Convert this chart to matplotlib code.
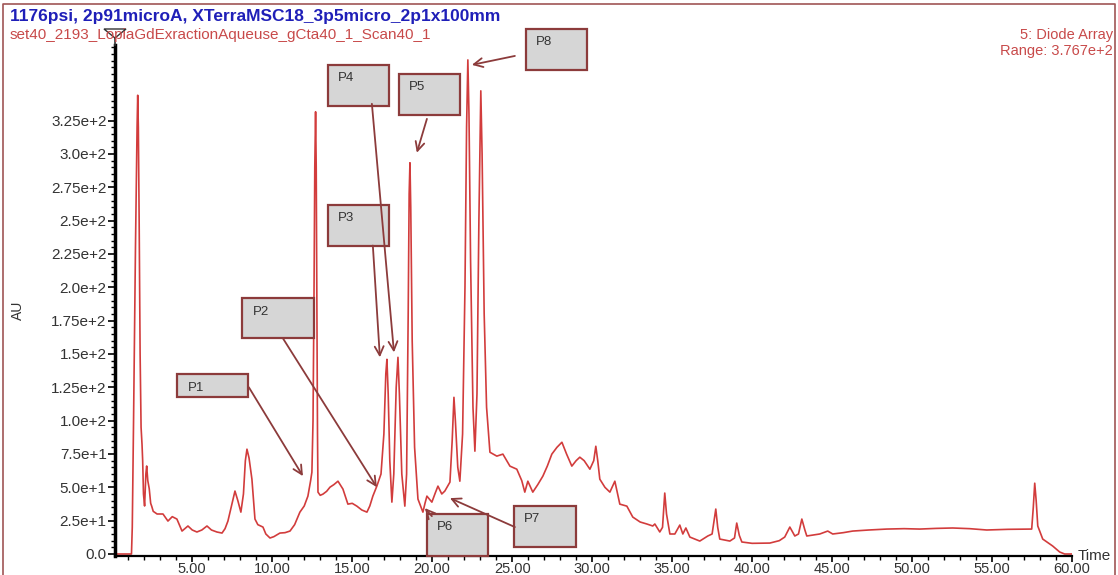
import matplotlib
matplotlib.use("Agg")
import matplotlib.pyplot as plt
from matplotlib.patches import Rectangle, Polygon
from matplotlib.lines import Line2D
from matplotlib.ticker import MultipleLocator

plt.rcParams['font.family'] = ['Liberation Sans', 'DejaVu Sans']

# chromatogram trace (time in min, AU)
time = [0.17, 1.20, 1.25, 1.33, 1.45, 1.55, 1.59, 1.63, 1.68, 1.74, 1.80, 1.86, 1.90, 1.95,
        2.02, 2.10, 2.15, 2.22, 2.31, 2.40, 2.46, 2.56, 2.80, 3.17, 3.48, 3.75, 4.04, 4.36,
        4.73, 5.00, 5.29, 5.60, 5.92, 6.20, 6.54, 6.86, 7.05, 7.23, 7.45, 7.67, 7.85, 8.04,
        8.20, 8.32, 8.42, 8.55, 8.73, 8.92, 9.10, 9.42, 9.60, 9.86, 10.10, 10.48, 10.80, 11.11,
        11.40, 11.73, 12.00, 12.23, 12.40, 12.48, 12.55, 12.61, 12.66, 12.71, 12.75, 12.79,
        12.83, 12.86, 13.00, 13.17, 13.40, 13.61, 13.85, 14.11, 14.25, 14.42, 14.73, 15.00,
        15.29, 15.60, 15.92, 16.10, 16.29, 16.54, 16.80, 16.98, 17.10, 17.17, 17.25, 17.35,
        17.48, 17.60, 17.75, 17.86, 17.95, 18.10, 18.29, 18.40, 18.50, 18.56, 18.61, 18.66,
        18.75, 18.90, 19.11, 19.42, 19.55, 19.67, 19.98, 20.20, 20.36, 20.60, 20.79, 21.11,
        21.25, 21.36, 21.45, 21.60, 21.73, 21.90, 22.05, 22.15, 22.23, 22.30, 22.40, 22.55,
        22.67, 22.80, 22.92, 23.04, 23.12, 23.25, 23.40, 23.61, 24.04, 24.42, 24.86, 25.29,
        25.60, 25.79, 25.98, 26.29, 26.60, 26.92, 27.20, 27.48, 27.80, 28.11, 28.40, 28.73,
        29.00, 29.23, 29.50, 29.86, 30.10, 30.23, 30.35, 30.48, 30.80, 31.11, 31.42, 31.73,
        32.17, 32.54, 33.00, 33.42, 33.79, 33.92, 34.23, 34.40, 34.54, 34.65, 34.86, 35.17,
        35.48, 35.67, 35.86, 36.11, 36.73, 37.23, 37.50, 37.73, 37.85, 37.98, 38.61, 38.90,
        39.04, 39.20, 39.36, 40.00, 41.11, 41.70, 42.04, 42.36, 42.67, 42.90, 43.11, 43.30,
        43.42, 44.23, 44.73, 45.04, 45.70, 46.29, 47.30, 48.42, 49.50, 50.48, 51.50, 52.54,
        53.60, 54.67, 56.00, 57.48, 57.58, 57.67, 57.76, 57.86, 58.17, 58.79, 59.23, 59.54, 60.0]
au = [0, 0, 20, 100, 230, 320, 344, 320, 250, 150, 95, 82, 70, 45,
      36, 60, 66, 55, 49, 38, 36, 32, 30, 30, 24.7, 28, 26.2, 17.2,
      21, 18, 16.5, 18, 21, 18, 16.5, 15.7, 19, 24.7, 36, 47.2, 40, 31.4,
      45, 70, 78.6, 72, 56.1, 26.2, 22, 20.2, 15, 12, 13, 15.7, 16, 17.2,
      22, 31.4, 36, 43.4, 55, 61.4, 100, 191, 290, 331.6, 290, 191,
      90, 46.4, 44, 44.9, 47, 50.1, 52, 54.6, 52, 48.7, 37.4, 38,
      35.9, 33, 31.4, 36, 43.4, 50.9, 60, 90, 135, 146, 120, 70,
      38.9, 60, 125, 147.5, 120, 60, 35.9, 60, 180, 270, 293.4, 260,
      160, 80, 41.2, 31.4, 38, 43.4, 38.9, 46, 50.9, 45, 47.2, 53.9,
      85, 117.5, 100, 65, 54.6, 90, 200, 320, 370.5, 330, 220, 110,
      77.1, 120, 250, 347.3, 300, 180, 110, 76.3, 73.4, 74.9, 65.9, 63.6,
      55, 46.4, 54.6, 46.4, 52, 58.4, 66, 74.9, 80, 83.8, 75, 65.9,
      70, 72.6, 70, 63.6, 70, 80.8, 70, 56.1, 50, 46.4, 54.6, 37.4,
      35.9, 27.7, 24, 22.5, 21, 22.5, 16.5, 20, 45.7, 30, 15, 15,
      21.7, 15, 19.5, 12.7, 9.7, 13.5, 15, 33.7, 20, 11.2, 9.7, 12,
      23.2, 14, 9, 8, 8.2, 10, 12.7, 20.2, 13.5, 15, 26.2, 18,
      13.5, 15, 17.2, 15, 16, 17.2, 18, 18.7, 19, 18.7, 19.2, 19.5,
      19, 18, 18.5, 18.7, 35, 53.1, 40, 21, 11.2, 6, 1.5, 0, 0]

yticks = [0, 25, 50, 75, 100, 125, 150, 175, 200, 225, 250, 275, 300, 325]
ylabels = ['0.0', '2.5e+1', '5.0e+1', '7.5e+1', '1.0e+2', '1.25e+2', '1.5e+2', '1.75e+2',
           '2.0e+2', '2.25e+2', '2.5e+2', '2.75e+2', '3.0e+2', '3.25e+2']
xticks = [5, 10, 15, 20, 25, 30, 35, 40, 45, 50, 55, 60]
xlabels = ['%.2f' % v for v in xticks]

# peak call-outs: label, box (t0, t1, v0, v1), arrow tail, arrow head
callouts = [
    ('P1', (4.06, 8.48, 117.5, 134.7), (8.54, 125.0), (11.92, 58.4)),
    ('P2', (8.11, 12.61, 161.7, 191.6), (10.67, 161.7), (16.54, 50.1)),
    ('P3', (13.48, 17.29, 231.3, 262.0), (16.29, 231.3), (16.73, 147.5)),
    ('P4', (13.48, 17.29, 336.0, 366.8), (16.23, 337.6), (17.61, 151.2)),
    ('P5', (17.92, 21.73, 329.3, 360.0), (19.67, 326.3), (19.04, 300.9)),
    ('P8', (25.86, 29.67, 363.0, 393.7), (25.17, 373.5), (22.48, 366.8)),
    ('P6', (19.67, 23.48, -1.5, 29.9), (19.98, 28.4), (19.54, 34.4)),
    ('P7', (25.11, 28.98, 5.2, 35.9), (25.17, 20.2), (21.11, 41.9)),
]

W, H = 1118, 575
fig = plt.figure(figsize=(W / 100, H / 100), dpi=100)
ax = fig.add_axes([115 / W, 1 - 556 / H, (1072 - 115) / W, (556 - 45) / H])

ax.plot(time, au, color='#d23c3c', lw=1.2)
ax.set_xlim(0.17, 60)
ax.set_ylim(-1.5, 381.7)

for s in ['top', 'right']:
    ax.spines[s].set_visible(False)
ax.spines['left'].set_linewidth(2.5)
ax.spines['bottom'].set_linewidth(1.6)

ax.set_yticks(yticks)
ax.set_yticklabels(ylabels)
ax.set_xticks(xticks)
ax.set_xticklabels(xlabels)
ax.yaxis.set_minor_locator(MultipleLocator(5))
ax.xaxis.set_minor_locator(MultipleLocator(1))
ax.tick_params(axis='y', which='major', length=5, width=1.2, labelsize=11,
               labelcolor='#333333', pad=1)
ax.tick_params(axis='x', which='major', length=4, width=1.2, labelsize=10.5,
               labelcolor='#333333', pad=0)
ax.tick_params(axis='both', which='minor', length=3, width=1.0)

ec = '#8c3b3b'
for lab, (t0, t1, v0, v1), tail, head in callouts:
    ax.add_patch(Rectangle((t0, v0), t1 - t0, v1 - v0, facecolor='#d6d6d6',
                           edgecolor=ec, lw=1.6, clip_on=False, zorder=3))
    ax.text(t0 + 0.65, v1 - 10, lab, fontsize=9.5, color='#333333', va='center',
            ha='left', zorder=4, clip_on=False)
    ax.annotate('', xy=head, xytext=tail, annotation_clip=False, zorder=5,
                arrowprops=dict(arrowstyle='->', color=ec, lw=1.3,
                                mutation_scale=16, shrinkA=0, shrinkB=0))

# headings
fig.text(10 / W, 1 - 17 / H, '1176psi, 2p91microA, XTerraMSC18_3p5micro_2p1x100mm',
         fontsize=12.5, fontweight='bold', color='#1f1fb8', va='center')
fig.text(10 / W, 1 - 35 / H, 'set40_2193_LopiaGdExractionAqueuse_gCta40_1_Scan40_1',
         fontsize=11, color='#c84a4a', va='center')
fig.text(1113 / W, 1 - 35 / H, '5: Diode Array', fontsize=10.5, color='#c84a4a',
         va='center', ha='right')
fig.text(1113 / W, 1 - 51 / H, 'Range: 3.767e+2', fontsize=10.5, color='#c84a4a',
         va='center', ha='right')
fig.text(18 / W, 1 - 310 / H, 'AU', fontsize=10, color='#333333', rotation=90,
         va='center', ha='center')
fig.text(1078 / W, 1 - 556 / H, 'Time', fontsize=11, color='#333333', va='center')

# axis top marker
fig.add_artist(Polygon([[104 / W, 1 - 29 / H], [126 / W, 1 - 29 / H], [115 / W, 1 - 38 / H]],
                       closed=True, fill=False, edgecolor='#333333', lw=1))
fig.add_artist(Line2D([115 / W, 115 / W], [1 - 38 / H, 1 - 45 / H], color='#333333', lw=1.2))

# outer frame (top, left, right edges)
fc = '#a05555'
fig.add_artist(Line2D([3 / W, 3 / W, 1 - 3 / W, 1 - 3 / W],
                      [0, 1 - 4 / H, 1 - 4 / H, 0], color=fc, lw=1.2))

fig.savefig('out.png', dpi=100)
